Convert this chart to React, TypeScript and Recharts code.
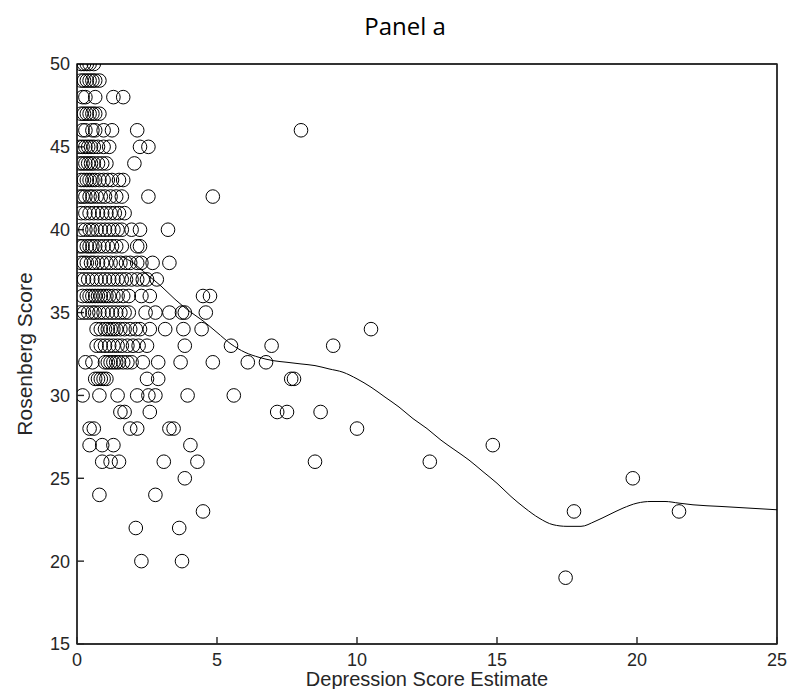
import React from 'react';
import { ScatterChart, Scatter, XAxis, YAxis, ReferenceArea } from 'recharts';

// Rosenberg score levels and the depression estimates read off at each level
const rosenbergLevels = [50, 49, 48, 47, 46, 45, 44, 43, 42, 41, 40, 39, 38, 37, 36, 35, 34, 33, 32, 31, 30, 29, 28, 27, 26, 25, 24, 23, 22, 20, 19];
const depressionRows = [
  [0.15, 0.25, 0.35, 0.45, 0.6],
  [0.15, 0.25, 0.35, 0.45, 0.55, 0.65, 0.8],
  [0.2, 0.3, 0.65, 1.3, 1.65],
  [0.15, 0.25, 0.35, 0.45, 0.55, 0.65, 0.8],
  [0.2, 0.3, 0.55, 0.65, 0.95, 1.25, 2.15, 8.0],
  [0.1, 0.2, 0.3, 0.4, 0.5, 0.6, 0.75, 0.95, 1.15, 2.25, 2.55],
  [0.1, 0.2, 0.3, 0.4, 0.5, 0.6, 0.75, 0.9, 1.05, 2.05],
  [0.15, 0.25, 0.35, 0.45, 0.55, 0.65, 0.8, 0.95, 1.1, 1.25, 1.5, 1.65],
  [0.1, 0.2, 0.3, 0.45, 0.55, 0.7, 0.85, 1.0, 1.2, 1.4, 1.6, 2.55, 4.85],
  [0.15, 0.3, 0.45, 0.6, 0.75, 0.9, 1.05, 1.2, 1.35, 1.5, 1.7],
  [0.15, 0.3, 0.45, 0.55, 0.7, 0.85, 1.0, 1.15, 1.3, 1.45, 1.6, 1.95, 2.25, 3.25],
  [0.1, 0.2, 0.35, 0.45, 0.55, 0.65, 0.8, 0.95, 1.1, 1.25, 1.4, 1.6, 2.15, 2.25],
  [0.15, 0.25, 0.35, 0.5, 0.6, 0.75, 0.9, 1.05, 1.2, 1.4, 1.55, 1.75, 1.9, 2.15, 2.3, 2.7, 3.3],
  [0.1, 0.25, 0.4, 0.55, 0.7, 0.85, 1.0, 1.15, 1.3, 1.45, 1.6, 1.75, 1.95, 2.15, 2.35, 2.5, 2.85],
  [0.2, 0.35, 0.45, 0.55, 0.65, 0.75, 0.85, 0.95, 1.05, 1.15, 1.3, 1.45, 1.65, 1.85, 2.3, 2.6, 4.5, 4.75],
  [0.1, 0.25, 0.4, 0.55, 0.65, 0.8, 0.95, 1.1, 1.25, 1.4, 1.55, 1.7, 1.85, 2.45, 2.8, 3.3, 3.75, 3.85, 4.6],
  [0.7, 0.85, 1.0, 1.1, 1.2, 1.3, 1.4, 1.55, 1.7, 1.9, 2.1, 2.25, 2.6, 3.15, 3.8, 4.45, 10.5],
  [0.7, 0.85, 1.0, 1.15, 1.3, 1.45, 1.6, 1.8, 2.0, 2.2, 2.5, 3.85, 5.5, 6.95, 9.15],
  [0.3, 0.55, 1.0, 1.1, 1.2, 1.3, 1.4, 1.5, 1.65, 1.8, 1.95, 2.35, 2.9, 3.7, 4.85, 6.1, 6.75],
  [0.65, 0.75, 0.85, 0.95, 1.05, 2.5, 2.9, 7.65, 7.75],
  [0.2, 0.8, 1.45, 2.15, 2.55, 2.8, 3.95, 5.6],
  [1.55, 1.7, 2.6, 7.15, 7.5, 8.7],
  [0.45, 0.6, 1.9, 2.15, 3.3, 3.45, 10.0],
  [0.45, 0.9, 1.3, 4.05, 14.85],
  [0.9, 1.2, 1.5, 3.1, 4.3, 8.5, 12.6],
  [3.85, 19.85],
  [0.8, 2.8],
  [4.5, 17.75, 21.5],
  [2.1, 3.65],
  [2.3, 3.75],
  [17.45],
];

// smoothed fit
const fitX = [1.6, 2, 2.5, 3, 3.5, 4, 4.5, 5, 5.5, 6, 6.5, 7, 7.5, 8, 8.5, 9, 9.5, 10, 10.5, 11, 11.5, 12, 12.5, 13, 13.5, 14, 14.5, 15, 15.5, 16, 16.5, 17, 17.5, 18, 18.5, 19, 19.5, 20, 20.5, 21, 21.5, 22, 23, 24, 25];
const fitY = [38.4, 38.0, 37.3, 36.6, 35.8, 35.1, 34.5, 33.8, 33.1, 32.6, 32.3, 32.1, 32.0, 31.9, 31.8, 31.6, 31.4, 31.0, 30.5, 29.9, 29.3, 28.6, 28.0, 27.3, 26.7, 26.1, 25.4, 24.7, 23.9, 23.2, 22.6, 22.2, 22.1, 22.1, 22.4, 22.8, 23.2, 23.5, 23.6, 23.6, 23.5, 23.4, 23.3, 23.2, 23.1];

const xTicks = [0, 5, 10, 15, 20, 25];
const yTicks = [15, 20, 25, 30, 35, 40, 45, 50];

const points = rosenbergLevels.flatMap((score, i) => depressionRows[i].map((d) => ({ x: d, y: score })));
const fitData = fitX.map((x, i) => ({ x, y: fitY[i] }));

const axisColor = '#262626';
const sansFont = '"Liberation Sans", Arial, sans-serif';
const tickFont = { fontSize: 18, fill: axisColor, fontFamily: sansFont };
const tickLineStyle = { stroke: axisColor, strokeWidth: 1.4 };

const Ring = (props: any) => (
  <circle cx={props.cx} cy={props.cy} r={6.8} fill="none" stroke="#000" strokeWidth={1} />
);
const Nothing = () => <g />;

export default function App() {
  return (
    <div style={{ position: 'absolute', left: 0, top: 0, width: 791, height: 689, background: '#fff', overflow: 'hidden' }}>
      <div style={{ position: 'absolute', left: 0, width: 810, top: 8, lineHeight: '36px', textAlign: 'center', fontFamily: '"Open Sans", sans-serif', fontSize: 24, color: '#000' }}>
        Panel a
      </div>
      <ScatterChart width={791} height={689} margin={{ top: 63, right: 13, left: 27, bottom: 0 }}>
        <XAxis
          type="number"
          dataKey="x"
          domain={[0, 25]}
          ticks={xTicks}
          allowDataOverflow
          height={45}
          stroke={axisColor}
          strokeWidth={1.4}
          tickSize={-7}
          tickMargin={16}
          tickLine={tickLineStyle}
          tick={tickFont}
        />
        <XAxis
          xAxisId="top"
          orientation="top"
          type="number"
          dataKey="x"
          domain={[0, 25]}
          ticks={xTicks}
          height={1}
          stroke={axisColor}
          strokeWidth={1.4}
          tickSize={-7}
          tickLine={tickLineStyle}
          tickFormatter={() => ''}
        />
        <YAxis
          type="number"
          dataKey="y"
          domain={[15, 50]}
          ticks={yTicks}
          allowDataOverflow
          width={50}
          stroke={axisColor}
          strokeWidth={1.4}
          tickSize={-7}
          tickMargin={14}
          tickLine={tickLineStyle}
          tick={tickFont}
        />
        <YAxis
          yAxisId="right"
          orientation="right"
          type="number"
          dataKey="y"
          domain={[15, 50]}
          ticks={yTicks}
          width={1}
          stroke={axisColor}
          strokeWidth={1.4}
          tickSize={-7}
          tickLine={tickLineStyle}
          tickFormatter={() => ''}
        />
        <ReferenceArea x1={0} x2={25} y1={15} y2={50} fill="none" stroke={axisColor} strokeWidth={1.4} ifOverflow="visible" />
        <Scatter data={points} shape={Ring} isAnimationActive={false} />
        <Scatter
          data={fitData}
          shape={Nothing}
          line={{ stroke: '#000', strokeWidth: 1 }}
          lineJointType="monotoneX"
          isAnimationActive={false}
        />
      </ScatterChart>
      <div style={{ position: 'absolute', left: 77, width: 700, top: 670, lineHeight: '19px', textAlign: 'center', fontFamily: sansFont, fontSize: 20, color: axisColor }}>
        Depression Score Estimate
      </div>
      <div style={{ position: 'absolute', left: 25, top: 354, width: 0, height: 0 }}>
        <div style={{ position: 'absolute', transform: 'translate(-50%, -50%) rotate(-90deg)', whiteSpace: 'nowrap', lineHeight: '22px', fontFamily: sansFont, fontSize: 21, color: axisColor }}>
          Rosenberg Score
        </div>
      </div>
    </div>
  );
}
